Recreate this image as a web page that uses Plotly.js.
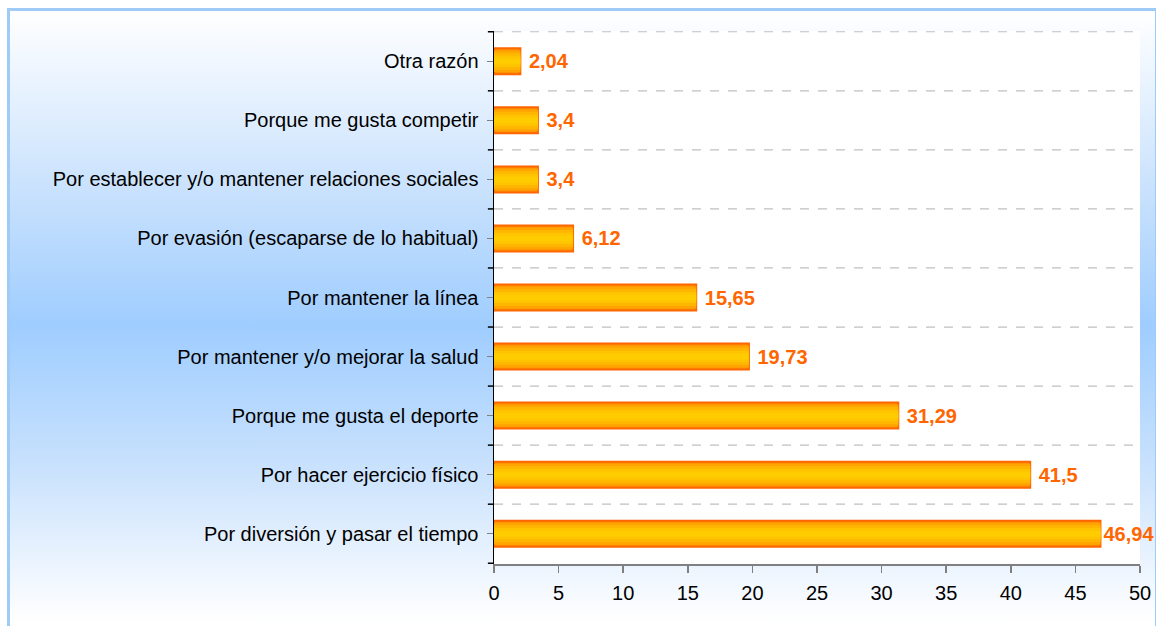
<!DOCTYPE html>
<html>
<head>
<meta charset="utf-8">
<script src="https://cdn.plot.ly/plotly-3.0.1.min.js"></script>
<style>
  html, body { margin: 0; padding: 0; background: #ffffff; }
  #wrap { position: relative; width: 1156px; height: 626px; overflow: hidden; background: #ffffff; }
  #frame { position: absolute; left: 7px; top: 8px; width: 1145px; height: 630px;
    border-left: 3px solid #9fcbf7; border-top: 3px solid #9fcbf7; border-right: 3px solid #9fcbf7;
    background: linear-gradient(to bottom, #ffffff 0%, #c6e0fd 30%, #9fcdff 50%, #c8e1fd 72%, #ffffff 97%); }
  #chart { position: absolute; left: 0; top: 0; width: 1156px; height: 626px; }
</style>
</head>
<body>
<div id="wrap">
  <div id="frame"></div>
  <div id="chart"></div>
</div>
<script>
// Data (top to bottom as shown)
const categories = [
  "Otra razón",
  "Porque me gusta competir",
  "Por establecer y/o mantener relaciones sociales",
  "Por evasión (escaparse de lo habitual)",
  "Por mantener la línea",
  "Por mantener y/o mejorar la salud",
  "Porque me gusta el deporte",
  "Por hacer ejercicio físico",
  "Por diversión y pasar el tiempo"
];
const values = [2.04, 3.4, 3.4, 6.12, 15.65, 19.73, 31.29, 41.5, 46.94];
const xTicks = [0, 5, 10, 15, 20, 25, 30, 35, 40, 45, 50];

// value labels with decimal comma; a small lead space where there is room
const labels = values.map(v => (v < 45 ? " " : "") + String(v).replace(".", ","));

// layered bars to imitate the orange-to-yellow gradient fill
const layers = [
  {w: 0.44, c: "#FF9000"},
  {w: 0.37, c: "#FFA400"},
  {w: 0.29, c: "#FFB600"},
  {w: 0.19, c: "#FFC400"},
  {w: 0.10, c: "#FFCC00"}
];

const traces = layers.map((L, i) => ({
  type: "bar",
  orientation: "h",
  y: categories,
  x: values,
  width: L.w,
  marker: {color: L.c, line: {color: i === 0 ? "#FF6600" : L.c, width: i === 0 ? 2 : 0}},
  text: i === 0 ? labels : undefined,
  textposition: i === 0 ? "outside" : "none",
  textfont: {family: "Liberation Sans, Arial, sans-serif", size: 20, color: "#FF6600", weight: "bold"},
  cliponaxis: false,
  hoverinfo: "skip",
  showlegend: false
}));

const shapes = [];
for (let i = 0; i <= categories.length - 1; i++) {
  // dashed gridlines at category boundaries
  shapes.push({type: "line", xref: "paper", yref: "y", x0: 0, x1: 1, y0: i - 0.5, y1: i - 0.5,
    line: {color: "#c0c0c0", width: 1.2, dash: "dash"}, layer: "below"});
}
for (let i = 0; i <= categories.length; i++) {
  // black boundary ticks on the category axis
  shapes.push({type: "line", xref: "paper", yref: "y", x0: -0.0095, x1: 0, y0: i - 0.5, y1: i - 0.5,
    line: {color: "#000000", width: 1.5}});
}

const layout = {
  width: 1156, height: 626,
  margin: {l: 494, r: 16, t: 31, b: 62, pad: 0},
  paper_bgcolor: "rgba(0,0,0,0)",
  plot_bgcolor: "#ffffff",
  barmode: "overlay",
  showlegend: false,
  font: {family: "Liberation Sans, Arial, sans-serif", color: "#000000"},
  xaxis: {
    range: [0, 50], tickvals: xTicks, ticktext: xTicks.map(String),
    showgrid: false, zeroline: false,
    showline: true, linecolor: "#808080", linewidth: 1.5,
    ticks: "outside", ticklen: 7, tickcolor: "#808080", tickwidth: 1.5,
    ticklabelstandoff: 3,
    tickfont: {size: 20, color: "#000000"}
  },
  yaxis: {
    type: "category", autorange: "reversed",
    showgrid: false, zeroline: false,
    showline: true, linecolor: "#000000", linewidth: 1.5,
    ticks: "outside", ticklen: 6, tickcolor: "#808080", tickwidth: 1.5,
    ticklabelstandoff: 4,
    tickfont: {size: 20, color: "#000000"}
  },
  shapes: shapes
};

Plotly.newPlot("chart", traces, layout, {displayModeBar: false, staticPlot: true});
</script>
</body>
</html>
